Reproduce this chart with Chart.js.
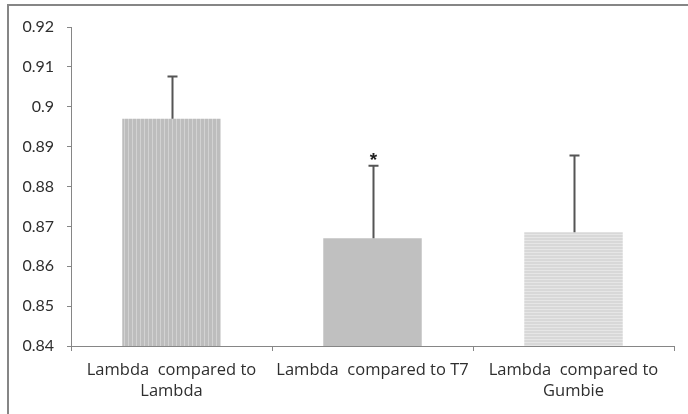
<!DOCTYPE html>
<html>
<head>
<meta charset="utf-8">
<script src="https://cdn.jsdelivr.net/npm/chart.js@4"></script>
<style>
  html, body { margin: 0; padding: 0; background: #fff; }
  #wrap { width: 688px; height: 414px; }
</style>
</head>
<body>
<div id="wrap"><canvas id="chart" width="688" height="414"></canvas></div>
<script>
// values
const categories = [
  ['Lambda  compared to', 'Lambda'],
  'Lambda  compared to T7',
  ['Lambda  compared to', 'Gumbie']
];
const means = [0.8970, 0.8670, 0.8685];
const errorTops = [0.9076, 0.8852, 0.8878];
const marks = ['', '*', ''];
const yTicks = [0.84, 0.85, 0.86, 0.87, 0.88, 0.89, 0.9, 0.91, 0.92];

// fill patterns like the old office chart
function stripes(base, line, vertical, step) {
  const c = document.createElement('canvas');
  c.width = step; c.height = step;
  const g = c.getContext('2d');
  g.fillStyle = base;
  g.fillRect(0, 0, step, step);
  g.fillStyle = line;
  if (vertical) g.fillRect(0, 0, 1, step);
  else g.fillRect(0, 0, step, 1);
  return g.createPattern(c, 'repeat');
}
const fills = [
  stripes('#bdbdbd', '#d2d2d2', true, 4),
  '#c0c0c0',
  stripes('#d8d8d8', '#e6e6e6', false, 3)
];

const axisGray = '#868686';
const textColor = '#2e2e2e';

const extras = {
  id: 'extras',
  beforeDraw(chart) {
    const c = chart.ctx;
    c.save();
    c.strokeStyle = axisGray;
    c.lineWidth = 2;
    c.beginPath();
    c.moveTo(8, 414);
    c.lineTo(8, 5);
    c.lineTo(688, 5);
    c.stroke();
    c.restore();
  },
  afterDatasetsDraw(chart) {
    const c = chart.ctx;
    const y = chart.scales.y;
    const meta = chart.getDatasetMeta(0);
    c.save();
    c.strokeStyle = '#555555';
    c.lineWidth = 2;
    meta.data.forEach((bar, i) => {
      const x = Math.round(bar.x) + 0.5;
      const yTop = y.getPixelForValue(errorTops[i]);
      c.beginPath();
      c.moveTo(x, bar.y);
      c.lineTo(x, yTop);
      c.moveTo(x - 5, yTop);
      c.lineTo(x + 5, yTop);
      c.stroke();
      if (marks[i]) {
        c.fillStyle = '#222';
        c.font = 'bold 19px "Liberation Sans", sans-serif';
        c.textAlign = 'center';
        c.textBaseline = 'middle';
        c.fillText(marks[i], x, yTop - 5);
      }
    });
    c.restore();
  }
};

new Chart(document.getElementById('chart'), {
  type: 'bar',
  data: {
    labels: categories,
    datasets: [{
      data: means,
      backgroundColor: fills,
      borderWidth: 0,
      categoryPercentage: 0.98,
      barPercentage: 0.5
    }]
  },
  options: {
    responsive: false,
    animation: false,
    events: [],
    layout: { padding: { left: 9, right: 14, top: 27, bottom: 0 } },
    plugins: {
      legend: { display: false },
      tooltip: { enabled: false }
    },
    scales: {
      x: {
        grid: {
          drawOnChartArea: false,
          drawTicks: true,
          tickLength: 5,
          color: axisGray,
          offset: true
        },
        border: { color: axisGray, width: 1 },
        ticks: {
          color: textColor,
          font: { family: '"Open Sans", Lato, sans-serif', size: 16.5, lineHeight: 1.32 },
          maxRotation: 0,
          autoSkip: false,
          padding: 8
        },
        afterFit(s) { s.height = 68; }
      },
      y: {
        min: 0.84,
        max: 0.92,
        afterBuildTicks(s) { s.ticks = yTicks.map(v => ({ value: v })); },
        grid: {
          drawOnChartArea: false,
          drawTicks: true,
          tickLength: 4,
          color: axisGray
        },
        border: { color: axisGray, width: 1 },
        ticks: {
          color: textColor,
          font: { family: 'Lato, "Open Sans", sans-serif', size: 16 },
          padding: 13,
          callback: v => String(Math.round(v * 100) / 100)
        },
        afterFit(s) { s.width = 62; }
      }
    }
  },
  plugins: [extras]
});
</script>
</body>
</html>
